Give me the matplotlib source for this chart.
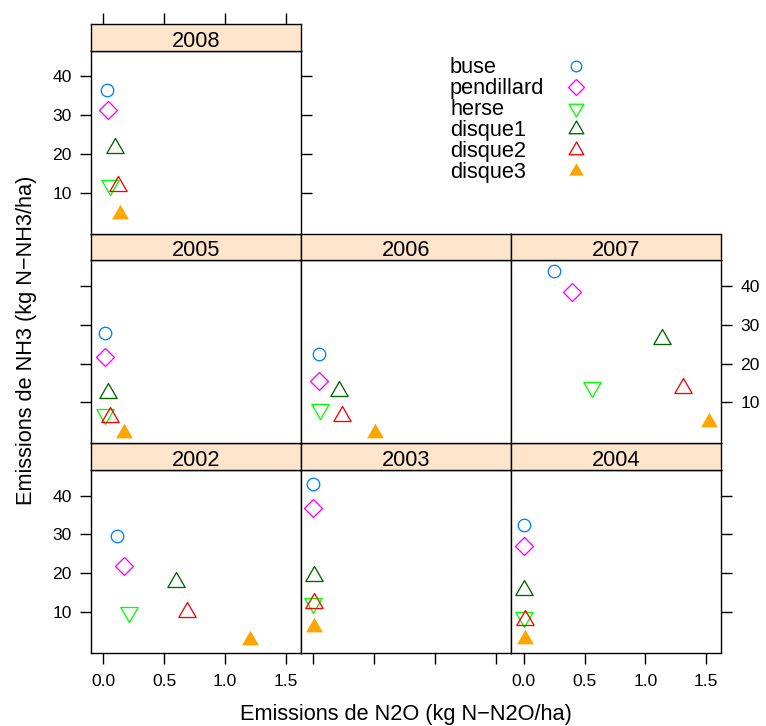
import numpy as np
import matplotlib
matplotlib.use("Agg")
import matplotlib.pyplot as plt
from matplotlib.path import Path

plt.rcParams['font.family'] = ['Liberation Sans', 'DejaVu Sans']

# data (x = N2O, y = NH3), years in this order
years = ['2002', '2003', '2004', '2005', '2006', '2007', '2008']
methods = ['buse', 'pendillard', 'herse', 'disque1', 'disque2', 'disque3']

n2o_buse = [0.115, 0.0, 0.0, 0.013, 0.044, 0.25, 0.033]
nh3_buse = [29.5, 43.0, 32.5, 27.9, 22.5, 43.9, 36.6]
n2o_pendillard = [0.172, 0.0, 0.0, 0.013, 0.05, 0.40, 0.041]
nh3_pendillard = [21.9, 36.8, 26.9, 21.6, 15.5, 38.4, 31.4]
n2o_herse = [0.213, 0.0, 0.0, 0.013, 0.057, 0.56, 0.06]
nh3_herse = [10.1, 12.2, 8.7, 7.1, 8.2, 14.0, 12.1]
n2o_disque1 = [0.60, 0.008, 0.0, 0.043, 0.21, 1.14, 0.10]
nh3_disque1 = [17.8, 19.3, 15.7, 12.5, 12.8, 26.4, 21.6]
n2o_disque2 = [0.69, 0.008, 0.008, 0.054, 0.235, 1.31, 0.12]
nh3_disque2 = [10.0, 12.4, 7.9, 6.1, 6.6, 13.7, 11.7]
n2o_disque3 = [1.207, 0.008, 0.008, 0.172, 0.506, 1.52, 0.14]
nh3_disque3 = [2.8, 6.2, 3.1, 2.1, 2.1, 4.9, 4.6]

xs = [n2o_buse, n2o_pendillard, n2o_herse, n2o_disque1, n2o_disque2, n2o_disque3]
ys = [nh3_buse, nh3_pendillard, nh3_herse, nh3_disque1, nh3_disque2, nh3_disque3]

x_ticks = [0.0, 0.5, 1.0, 1.5]
x_ticklabels = ['0.0', '0.5', '1.0', '1.5']
y_ticks = [10, 20, 30, 40]

# lattice-like symbols (triangles centred on their centroid, like R pch 2/6/17)
tri_up = Path([(0, 1), (-0.866, -0.5), (0.866, -0.5), (0, 1)], closed=True)
tri_dn = Path([(0, -1), (-0.866, 0.5), (0.866, 0.5), (0, -1)], closed=True)
styles = [
    dict(marker='o', ms=9.0, mfc='none', mec='#0080ff'),
    dict(marker='D', ms=9.2, mfc='none', mec='#ff00ff'),
    dict(marker=tri_dn, ms=14.4, mfc='none', mec='#00ff00'),
    dict(marker=tri_up, ms=14.4, mfc='none', mec='#006400'),
    dict(marker=tri_up, ms=14.4, mfc='none', mec='#ff0000'),
    dict(marker=tri_up, ms=14.0, mfc='#ffa500', mec='none'),
]

W, H = 766, 726
fig = plt.figure(figsize=(W / 100, H / 100), dpi=100)

col_left = [90.5, 300.7, 511.0]
col_w = 210.4
row_top = [24.0, 233.7, 443.3]
strip_h = 26.5
panel_h = 183.2
xlim = (-0.104, 1.625)
ylim = (-0.6, 46.7)

fs = 15.7
tfs = 12.6
lw = 1.0


def fbox(x, y, w, h):
    return [x / W, 1 - (y + h) / H, w / W, h / H]


# where each year goes (row from top, column) and which axes it carries
layout = {
    '2002': (2, 0, dict(left=True, labelleft=True, bottom=True, labelbottom=True)),
    '2003': (2, 1, dict(bottom=True)),
    '2004': (2, 2, dict(bottom=True, labelbottom=True, right=True)),
    '2005': (1, 0, dict(left=True)),
    '2006': (1, 1, dict()),
    '2007': (1, 2, dict(right=True, labelright=True)),
    '2008': (0, 0, dict(left=True, labelleft=True, right=True)),
}

for k, year in enumerate(years):
    r, c, sides = layout[year]
    ax = fig.add_axes(fbox(col_left[c], row_top[r] + strip_h, col_w, panel_h))
    for m in range(len(methods)):
        ax.plot(xs[m][k], ys[m][k], ls='none', mew=0.95, **styles[m])
    ax.set_xlim(xlim)
    ax.set_ylim(ylim)
    ax.set_xticks(x_ticks)
    ax.set_xticklabels(x_ticklabels)
    ax.set_yticks(y_ticks)
    opts = dict(left=False, labelleft=False, right=False, labelright=False,
                bottom=False, labelbottom=False, top=False, labeltop=False)
    opts.update(sides)
    ax.tick_params(axis='both', direction='out', length=7.6, width=lw,
                   labelsize=tfs, colors='black', **opts)
    ax.tick_params(axis='x', pad=7.5)
    ax.tick_params(axis='y', pad=6.0)
    for s in ax.spines.values():
        s.set_linewidth(lw)

    sax = fig.add_axes(fbox(col_left[c], row_top[r], col_w, strip_h))
    sax.set_facecolor('#ffe5cc')
    sax.set_xlim(xlim)
    sax.set_yticks([])
    if year == '2008':
        sax.set_xticks(x_ticks)
        sax.tick_params(axis='x', direction='out', length=7.6, width=lw,
                        bottom=False, labelbottom=False, top=True, labeltop=False)
    else:
        sax.set_xticks([])
    for s in sax.spines.values():
        s.set_linewidth(lw)
    sax.text(0.5, 0.45, year, transform=sax.transAxes, ha='center',
             va='center_baseline', fontsize=fs)

# key
lax = fig.add_axes([0, 0, 1, 1])
lax.set_xlim(0, W)
lax.set_ylim(H, 0)
lax.axis('off')
for m, name in enumerate(methods):
    st = dict(styles[m])
    st['ms'] = st['ms'] * 0.85
    lax.plot(575.7, 66 + 21 * m, ls='none', mew=0.95, **st)
    lax.text(450, 73.3 + 21 * m, name, fontsize=fs, ha='left', va='baseline')

fig.text(406 / W, 1 - 720 / H, 'Emissions de N2O (kg N\u2212N2O/ha)',
         fontsize=fs, ha='center', va='baseline')
fig.text(31.7 / W, 1 - 340.5 / H, 'Emissions de NH3 (kg N\u2212NH3/ha)',
         fontsize=fs, ha='center', va='baseline', rotation=90,
         rotation_mode='anchor')

fig.savefig('out.png', dpi=100)
